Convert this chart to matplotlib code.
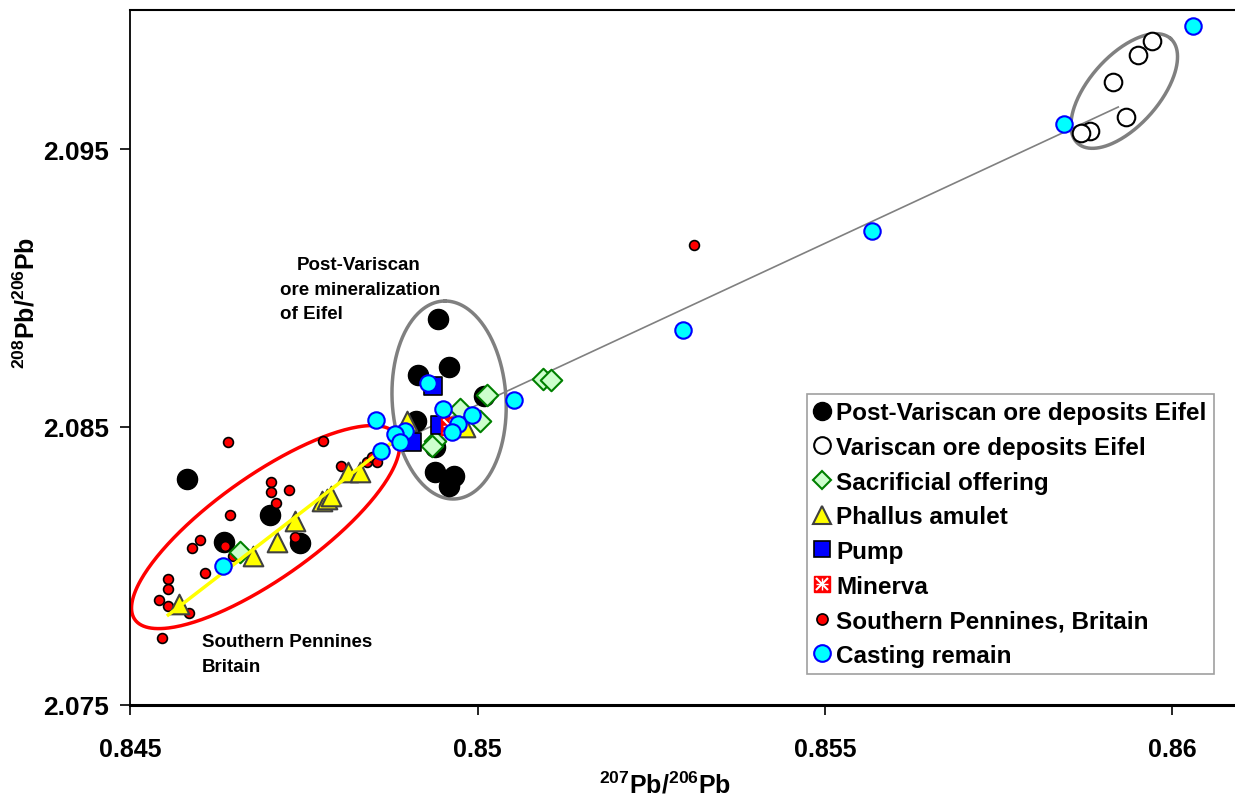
import numpy as np
import matplotlib.pyplot as plt
from matplotlib.lines import Line2D
from matplotlib.legend_handler import HandlerTuple

plt.rcParams['font.family'] = ['Liberation Sans', 'DejaVu Sans']
plt.rcParams['font.weight'] = 'bold'
plt.rcParams['mathtext.fontset'] = 'custom'
plt.rcParams['mathtext.rm'] = 'Liberation Sans:bold'
plt.rcParams['mathtext.bf'] = 'Liberation Sans:bold'

# data (207Pb/206Pb, 208Pb/206Pb)
post_x = [0.84582, 0.84635, 0.84701, 0.84745, 0.84943, 0.84914, 0.84959, 0.84912,
          0.84939, 0.84939, 0.84966, 0.84959, 0.85010]
post_y = [2.08313, 2.08087, 2.08184, 2.08083, 2.08889, 2.08688, 2.08717, 2.08522,
          2.08429, 2.08339, 2.08324, 2.08288, 2.08612]

var_x = [0.85971, 0.85950, 0.85914, 0.85933, 0.85881, 0.85868]
var_y = [2.09888, 2.09838, 2.09741, 2.09615, 2.09565, 2.09558]

sac_x = [0.85094, 0.85106, 0.85014, 0.85003, 0.84975, 0.84939, 0.84935, 0.84658]
sac_y = [2.08673, 2.08669, 2.08615, 2.08522, 2.08565, 2.08450, 2.08432, 2.08050]

pha_x = [0.84571, 0.84677, 0.84712, 0.84737, 0.84776, 0.84783, 0.84789, 0.84814,
         0.84831, 0.84899, 0.84982]
pha_y = [2.07863, 2.08036, 2.08086, 2.08162, 2.08234, 2.08241, 2.08252, 2.08338,
         2.08338, 2.08522, 2.08500]

pump_x = [0.84936, 0.84946, 0.84906]
pump_y = [2.08647, 2.08507, 2.08446]

min_x = [0.84960]
min_y = [2.08504]

pen_x = [0.84641, 0.84778, 0.84703, 0.84703, 0.84729, 0.84710, 0.84644, 0.84601,
         0.84589, 0.84637, 0.84648, 0.84608, 0.84555, 0.84555, 0.84542, 0.84555,
         0.84585, 0.84546, 0.84804, 0.84841, 0.84848, 0.84855, 0.84737, 0.85312]
pen_y = [2.08446, 2.08450, 2.08302, 2.08266, 2.08273, 2.08227, 2.08183, 2.08094,
         2.08065, 2.08072, 2.08036, 2.07975, 2.07953, 2.07917, 2.07878, 2.07856,
         2.07831, 2.07741, 2.08360, 2.08374, 2.08392, 2.08374, 2.08104, 2.09155]

cast_x = [0.86030, 0.85844, 0.85568, 0.85296, 0.85053, 0.84929, 0.84950, 0.84992,
          0.84972, 0.84963, 0.84896, 0.84881, 0.84888, 0.84854, 0.84861, 0.84634]
cast_y = [2.09942, 2.09590, 2.09205, 2.08849, 2.08597, 2.08658, 2.08565, 2.08543,
          2.08511, 2.08482, 2.08486, 2.08475, 2.08446, 2.08525, 2.08414, 2.08000]

# trend lines
grey_line_x = [0.84860, 0.85922]
grey_line_y = [2.08417, 2.09651]
yel_line_x = [0.84555, 0.84874]
yel_line_y = [2.07824, 2.08439]

fig = plt.figure(figsize=(12.35, 8.03), dpi=100)
ax = fig.add_axes([0.1053, 0.1208, 0.8947, 0.8655])


def ring(c, a, b, **kw):
    # ellipse as affine image of a circle (conjugate semi-axes a, b in data units)
    t = np.linspace(0, 2 * np.pi, 300)
    ax.plot(c[0] + a[0] * np.cos(t) + b[0] * np.sin(t),
            c[1] + a[1] * np.cos(t) + b[1] * np.sin(t), **kw)


ring((0.846950, 2.081400), (0.001880, 0.003330), (0.000430, -0.001500),
     color='red', lw=2.5, zorder=2)
ring((0.849591, 2.085971), (-0.0000576, 0.003561), (0.000820, 0.0),
     color='#808080', lw=2.5, zorder=2)
ring((0.859306, 2.097086), (0.000668, 0.001885), (0.000377, -0.000835),
     color='#808080', lw=2.5, zorder=2)

ax.plot(grey_line_x, grey_line_y, color='#808080', lw=1.2, zorder=2)

ax.scatter(post_x, post_y, s=210, c='black', edgecolors='black', zorder=3)
ax.scatter(var_x, var_y, s=160, c='white', edgecolors='black', lw=1.5, zorder=3)
ax.scatter(pen_x, pen_y, s=50, c='red', edgecolors='black', lw=1.2, zorder=4)
ax.scatter(sac_x, sac_y, s=120, marker='D', c='#ccffcc', edgecolors='green', lw=1.5, zorder=5)
ax.scatter(pha_x, pha_y, s=200, marker='^', c='yellow', edgecolors='#404040', lw=1.5, zorder=6)
ax.plot(yel_line_x, yel_line_y, color='yellow', lw=2.5, zorder=6.5)
ax.scatter(pump_x, pump_y, s=170, marker='s', c='blue', edgecolors='black', lw=1.2, zorder=7)
ax.scatter(min_x, min_y, s=170, marker='s', c='red', edgecolors='red', zorder=8)
ax.scatter(min_x, min_y, s=110, marker='x', c='white', lw=1.5, zorder=8.5)
ax.scatter(min_x, min_y, s=110, marker='+', c='white', lw=1.0, zorder=8.5)
ax.scatter(cast_x, cast_y, s=140, c='cyan', edgecolors='blue', lw=1.5, zorder=9)

ax.set_xlim(0.845, 0.8609)
ax.set_ylim(2.075, 2.1)
ax.set_xticks([0.845, 0.85, 0.855, 0.86])
ax.set_xticklabels(['0.845', '0.85', '0.855', '0.86'])
ax.set_yticks([2.075, 2.085, 2.095])
ax.set_yticklabels(['2.075', '2.085', '2.095'])
ax.tick_params(axis='x', labelsize=18, direction='out', length=7, width=1.2, pad=16)
ax.tick_params(axis='y', labelsize=19, direction='out', length=7, width=1.2, pad=8)
for lab in ax.get_xticklabels() + ax.get_yticklabels():
    lab.set_fontweight('bold')

ax.spines['right'].set_visible(False)
ax.spines['bottom'].set_linewidth(2.2)
ax.spines['left'].set_linewidth(1.3)
ax.spines['top'].set_linewidth(1.5)

ax.set_xlabel(r'$\mathbf{^{207}Pb/^{206}Pb}$', fontsize=18)
ax.set_ylabel(r'$\mathbf{^{208}Pb/^{206}Pb}$', fontsize=18)
ax.xaxis.set_label_coords(0.484, -0.095)
ax.yaxis.set_label_coords(-0.082, 0.58)

ax.text(0.847404, 2.09086, 'Post-Variscan', fontsize=13.5, fontweight='bold', va='center')
ax.text(0.847159, 2.08996, 'ore mineralization', fontsize=13.5, fontweight='bold', va='center')
ax.text(0.847159, 2.08910, 'of Eifel', fontsize=13.5, fontweight='bold', va='center')
ax.text(0.846036, 2.07727, 'Southern Pennines', fontsize=13.5, fontweight='bold', va='center')
ax.text(0.846036, 2.07637, 'Britain', fontsize=13.5, fontweight='bold', va='center')

handles = [
    Line2D([], [], ls='', marker='o', ms=13, mfc='black', mec='black'),
    Line2D([], [], ls='', marker='o', ms=12, mfc='white', mec='black', mew=1.5),
    Line2D([], [], ls='', marker='D', ms=9, mfc='#ccffcc', mec='green', mew=1.5),
    Line2D([], [], ls='', marker='^', ms=13, mfc='yellow', mec='#404040', mew=1.5),
    Line2D([], [], ls='', marker='s', ms=12, mfc='blue', mec='black', mew=1.2),
    (Line2D([], [], ls='', marker='s', ms=12, mfc='red', mec='red'),
     Line2D([], [], ls='', marker='x', ms=9, mec='white', mew=1.5),
     Line2D([], [], ls='', marker='+', ms=9, mec='white', mew=1.0)),
    Line2D([], [], ls='', marker='o', ms=8, mfc='red', mec='black', mew=1.2),
    Line2D([], [], ls='', marker='o', ms=12, mfc='cyan', mec='blue', mew=1.5),
]
labels = ['Post-Variscan ore deposits Eifel', 'Variscan ore deposits Eifel',
          'Sacrificial offering', 'Phallus amulet', 'Pump', 'Minerva',
          'Southern Pennines, Britain', 'Casting remain']
leg = ax.legend(handles, labels, loc='upper left', bbox_to_anchor=(0.6127, 0.4475),
                borderaxespad=0, fancybox=False, edgecolor='#a0a0a0', framealpha=1,
                prop={'size': 17.5, 'weight': 'bold'}, handlelength=0.6,
                handletextpad=0.3, labelspacing=0.48, borderpad=0.3,
                handler_map={tuple: HandlerTuple(ndivide=1)})
leg.get_frame().set_linewidth(1.2)

fig.savefig('out.png', dpi=100)
